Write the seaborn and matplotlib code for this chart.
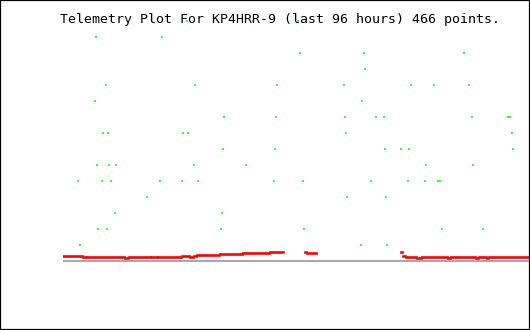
import numpy as np
import pandas as pd
import matplotlib
matplotlib.use("Agg")
import matplotlib.pyplot as plt
from matplotlib.patches import Rectangle
import seaborn as sns

TITLE = "Telemetry Plot For KP4HRR-9 (last 96 hours) 466 points."

# Red telemetry series: constant segments (start hour, end hour, value)
red_start = [0.00, 4.12, 4.94, 12.77, 13.60, 18.13, 19.57, 24.52, 26.16, 26.99,
             27.61, 32.34, 37.08, 42.64, 49.85, 50.27, 69.63, 70.04, 70.66, 72.93,
             73.96, 79.31, 79.93, 81.17, 81.37, 85.08, 85.70, 87.35, 87.76]
red_end = [3.91, 4.73, 12.57, 13.39, 17.92, 19.36, 24.31, 25.96, 26.78, 27.40,
           32.14, 36.88, 42.44, 45.32, 50.00, 52.12, 69.84, 70.46, 72.72, 73.75,
           79.11, 79.73, 80.96, 81.20, 84.88, 85.49, 87.14, 87.55, 96.00]
red_value = [0.33, 0.22, 0.27, 0.21, 0.27, 0.22, 0.27, 0.33, 0.22, 0.30,
             0.39, 0.45, 0.51, 0.575, 0.575, 0.51, 0.575, 0.33, 0.27, 0.21,
             0.27, 0.21, 0.27, 0.21, 0.27, 0.21, 0.27, 0.21, 0.27]

# Green telemetry series: quantised samples (hour, level)
green_hour = [25.55, 39.15, 48.42, 72.31, 74.99,
              6.80, 20.39,
              48.83, 62.02, 82.62,
              62.22,
              8.86, 27.20, 44.09, 57.89, 71.70, 76.44, 83.65,
              6.59, 61.60,
              33.17, 43.88, 58.09, 64.48, 66.12, 84.27, 91.69, 92.10,
              8.24, 9.27, 24.72, 25.75, 58.30, 92.51,
              32.96, 43.67, 66.33, 69.63, 71.29, 92.72,
              7.00, 9.48, 10.92, 26.99, 37.70, 74.79, 84.48,
              3.09, 8.03, 9.89, 19.98, 24.52, 27.81, 43.47, 49.44, 63.45, 71.08, 74.58, 77.26, 77.67,
              17.31, 58.51, 66.54,
              10.71, 32.75,
              7.21, 9.07, 32.55, 49.65, 78.07, 86.53,
              3.50, 61.39, 66.74]
green_level = [15, 15, 15, 15, 15,
               14, 14,
               13, 13, 13,
               12,
               11, 11, 11, 11, 11, 11, 11,
               10, 10,
               9, 9, 9, 9, 9, 9, 9, 9,
               8, 8, 8, 8, 8, 8,
               7, 7, 7, 7, 7, 7,
               6, 6, 6, 6, 6, 6, 6,
               5, 5, 5, 5, 5, 5, 5, 5, 5, 5, 5, 5, 5,
               4, 4, 4,
               3, 3,
               2, 2, 2, 2, 2, 2,
               1, 1, 1]

red_df = pd.DataFrame({
    "hour": np.ravel(np.column_stack([red_start, red_end])),
    "value": np.repeat(red_value, 2),
    "seg": np.repeat(np.arange(len(red_value)), 2),
})
green_df = pd.DataFrame({"hour": green_hour, "level": green_level})

W, H = 530, 330
fig = plt.figure(figsize=(W / 100, H / 100), dpi=100)
fig.patch.set_facecolor("white")

ax = fig.add_axes([63 / W, (H - 277) / H, (530 - 63) / W, 272 / H])
ax.set_xlim(0, 96.2)
ax.set_ylim(-1, 16)
ax.axis("off")

ax.axhline(0, color="#a9a9a9", lw=1.5, zorder=1)

sns.lineplot(data=red_df, x="hour", y="value", units="seg", estimator=None,
             sort=False, color="#ff0000", lw=1.9, ax=ax, legend=False, zorder=3)
for ln in ax.lines[1:]:
    ln.set_solid_capstyle("projecting")

sns.scatterplot(data=green_df, x="hour", y="level", marker="|", s=3.2,
                linewidth=1.15, color="#00ff00", ax=ax, legend=False, zorder=2,
                clip_on=False)

fig.text(60 / W, (H - 22.5) / H, TITLE, family="DejaVu Sans Mono",
         fontsize=9.55, color="black", ha="left", va="baseline")

fig.patches.append(Rectangle((0, 0), 1, 1, transform=fig.transFigure,
                             fill=False, edgecolor="black", lw=1.6))

fig.savefig("out.png", dpi=100, facecolor="white")
